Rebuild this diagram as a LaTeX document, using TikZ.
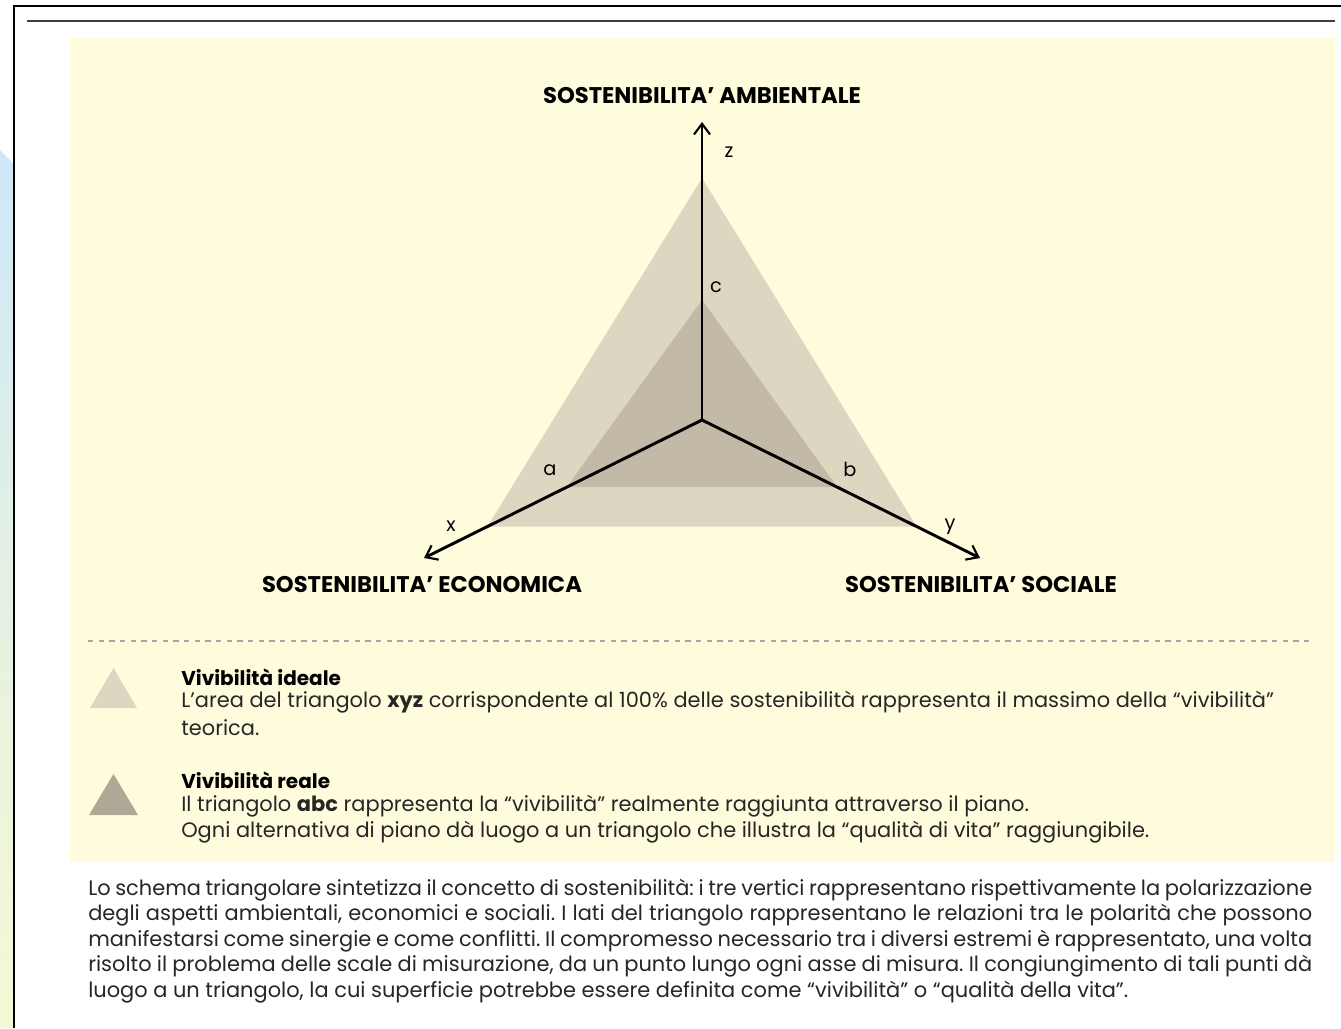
\documentclass[tikz,border=0pt]{standalone}
\usepackage{fontspec}
\setmainfont{Poppins}
\usetikzlibrary{calc,arrows.meta}
\definecolor{panelyellow}{RGB}{255,252,222}
\definecolor{ideal}{RGB}{221,214,192}
\definecolor{real}{RGB}{194,186,166}
\definecolor{realkey}{RGB}{176,168,150}
\definecolor{slideblue}{RGB}{206,231,248}
\definecolor{slideyellow}{RGB}{244,248,212}
\tikzset{
  axis/.style={line width=2.2pt, -{Straight Barb[length=8pt,width=12pt,line width=1.6pt]}},
  heading/.style={font=\fontsize{17}{20}\selectfont\bfseries, inner sep=0pt},
  axlabel/.style={font=\fontsize{14.5}{16}\selectfont, inner sep=0pt},
  keytitle/.style={font=\fontsize{15}{18}\selectfont\bfseries, anchor=west, inner sep=0pt},
  keytext/.style={font=\fontsize{15.7}{18}\selectfont, anchor=west, inner sep=0pt, text=black!85},
  bodytext/.style={font=\fontsize{15.7}{18}\selectfont, anchor=west, inner sep=0pt, text=black!85}
}
\frenchspacing
\begin{document}
\begin{tikzpicture}[x=0.75pt,y=-0.75pt]
  \fill[white] (0,0) rectangle (1341,1028);% page
  \useasboundingbox (0,0) rectangle (1341,1028);
  \shade[top color=slideblue, bottom color=slideyellow, middle color=slideblue!40!slideyellow]
    (0,150) -- (13,163) -- (13,1028) -- (0,1028) -- cycle;% slide background at the left
  \draw[line width=1.8pt] (14,1028) -- (14,6) -- (1341,6);% outer frame
  \draw[line width=1.4pt, black!75] (27,21) -- (1335,21);% rule under the frame
  \fill[panelyellow] (70,38) rectangle (1335,862);% yellow panel

  % axes and triangles
  \coordinate (O) at (702,420);
  \coordinate (xtip) at (424,558);
  \coordinate (ytip) at (980,558);
  \coordinate (ztip) at (702,122);
  \coordinate (X) at ($(O)!0.772!(xtip)$);
  \coordinate (Y) at ($(O)!0.772!(ytip)$);
  \coordinate (Z) at ($(O)!0.812!(ztip)$);
  \coordinate (A) at ($(O)!0.487!(xtip)$);
  \coordinate (B) at ($(O)!0.487!(ytip)$);
  \coordinate (C) at ($(O)!0.403!(ztip)$);
  \fill[ideal] (X) -- (Y) -- (Z) -- cycle;
  \fill[real] (A) -- (B) -- (C) -- cycle;
  \draw[axis] (O) -- (ztip);
  \draw[axis] (O) -- (xtip);
  \draw[axis] (O) -- (ytip);

  \node[axlabel] (lz) at (729,152) {z};
  \node[axlabel] (lx) at (451,526) {x};
  \node[axlabel] (ly) at (950,527) {y};
  \node[axlabel] (la) at (550,470) {a};
  \node[axlabel] (lb) at (850,469) {b};
  \node[axlabel] (lc) at (716,287) {c};

  \node[heading] (amb) at (702,96) {SOSTENIBILITA' AMBIENTALE};
  \node[heading] (eco) at (422,585) {SOSTENIBILITA' ECONOMICA};
  \node[heading] (soc) at (981,585) {SOSTENIBILITA' SOCIALE};

  \draw[gray!70, line width=0.8pt, dash pattern=on 4pt off 4pt] (88,641) -- (1310,641);% separator

  % key
  \fill[ideal] (90,708) -- (137,708) -- (113.5,668) -- cycle;
  \fill[realkey] (89,815) -- (138,815) -- (113.5,774) -- cycle;
  \node[keytitle] (ideale) at (181,677) {Vivibilità ideale};
  \node[keytext] (ideale1) at (181,702) {L’area del triangolo \textbf{xyz} corrispondente al 100\% delle sostenibilità rappresenta il massimo della “vivibilità”};
  \node[keytext] (ideale2) at (181,728) {teorica.};
  \node[keytitle] (reale) at (181,780) {Vivibilità reale};
  \node[keytext] (reale1) at (181,806) {Il triangolo \textbf{abc} rappresenta la “vivibilità” realmente raggiunta attraverso il piano.};
  \node[keytext] (reale2) at (181,832) {Ogni alternativa di piano dà luogo a un triangolo che illustra la “qualità di vita” raggiungibile.};

  % caption
  \foreach \i/\yy/\txt in {1/890/{Lo schema triangolare sintetizza il concetto di sostenibilità: i tre vertici rappresentano rispettivamente la polarizzazione},
      2/915/{degli aspetti ambientali, economici e sociali. I lati del triangolo rappresentano le relazioni tra le polarità che possono},
      3/941/{manifestarsi come sinergie e come conflitti. Il compromesso necessario tra i diversi estremi è rappresentato, una volta},
      4/966/{risolto il problema delle scale di misurazione, da un punto lungo ogni asse di misura. Il congiungimento di tali punti dà}}
    \node[bodytext] (par\i) at (88,\yy) {\makebox[918pt][s]{\txt}};
  \node[bodytext] (par5) at (88,992) {luogo a un triangolo, la cui superficie potrebbe essere definita come “vivibilità” o “qualità della vita”.};
\end{tikzpicture}
\end{document}
